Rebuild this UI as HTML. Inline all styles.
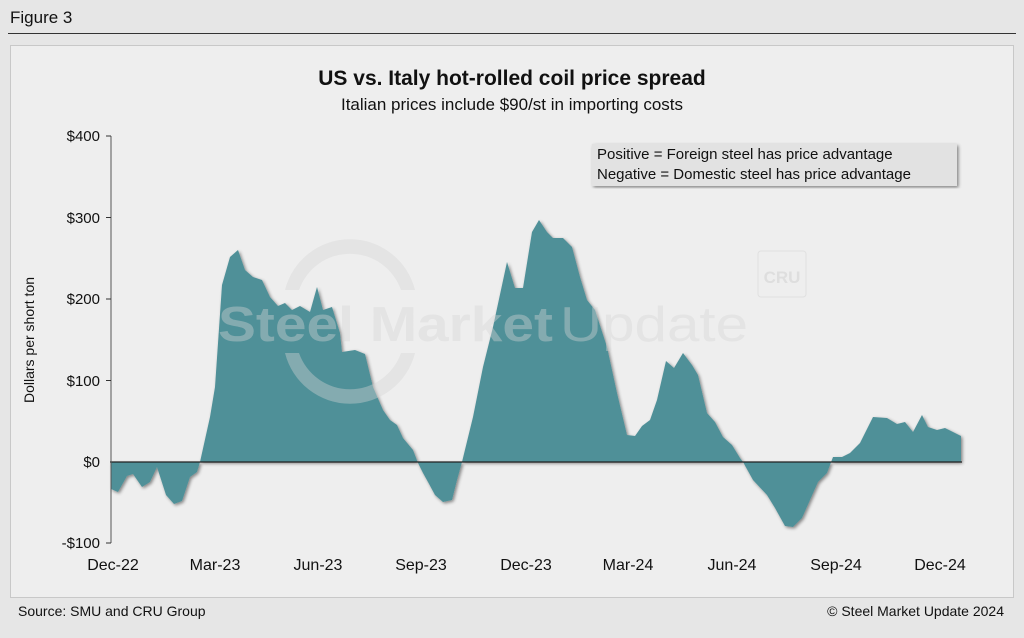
<!DOCTYPE html>
<html><head><meta charset="utf-8"><style>
body{margin:0;background:#e6e6e6;font-family:"Liberation Sans",sans-serif;}
</style></head><body>
<svg width="1024" height="633" xmlns="http://www.w3.org/2000/svg" font-family="Liberation Sans, sans-serif">
<rect width="1024" height="633" fill="#e6e6e6"/>
<text x="10" y="23" font-size="17" fill="#111">Figure 3</text>
<line x1="8" y1="33.5" x2="1016" y2="33.5" stroke="#333" stroke-width="1"/>
<rect x="10.5" y="45.5" width="1003" height="552" fill="#eeeeee" stroke="#c8c8c8"/>
<text x="512" y="85" font-size="21" font-weight="bold" text-anchor="middle" fill="#111">US vs. Italy hot-rolled coil price spread</text>
<text x="512" y="110" font-size="17" text-anchor="middle" fill="#111">Italian prices include $90/st in importing costs</text>
<defs><filter id="sh" x="-5%" y="-5%" width="110%" height="110%"><feDropShadow dx="1.5" dy="1.5" stdDeviation="1.5" flood-color="#000" flood-opacity="0.45"/></filter></defs>
<polygon filter="url(#sh)" fill="#4f9098" points="111,462 111,489 118,492 127,476 133,474 142,487 150,482 157,467 166,495 174,504 182,501 190,477 197,472 200,462 210,417 215,387 222,285 230,257 238,250 245,270 253,277 262,280 270,297 278,306 285,303 292,310 300,306 310,312 317,287 323,310 332,307 340,333 342,352 355,350 365,354 373,387 383,410 390,420 397,425 403,438 413,450 418,463 423,473 428,482 435,495 443,502 452,500 457,480 462,462 473,417 483,367 493,327 507,262 515,288 523,288 532,232 539,220 547,232 553,238 563,238 572,247 580,277 587,300 595,310 607,347 617,393 627,435 635,436 642,426 650,420 657,400 666,361 674,368 683,353 692,365 698,375 707,413 715,422 723,437 732,445 740,458 743,462 753,480 767,495 775,508 785,526 793,527 802,518 810,500 818,482 827,473 833,457 842,457 850,453 860,443 873,417 887,418 897,424 905,422 913,432 922,415 928,427 937,430 945,428 953,432 961,436 961,462"/>
<!-- watermark -->
<g fill="#d4d4d4" fill-opacity="0.4">
<path d="M 285 290 A 67 67 0 0 1 415 290 L 401 290 A 54 54 0 0 0 299 290 Z"/>
<path d="M 285 353 A 67 67 0 0 0 415 353 L 401 353 A 54 54 0 0 1 299 353 Z"/>
<text x="218" y="341" font-size="49" font-weight="bold" textLength="335" lengthAdjust="spacingAndGlyphs">Steel Market</text>
<text x="560" y="341" font-size="49" textLength="188" lengthAdjust="spacingAndGlyphs">Update</text>
</g>
<rect x="758" y="251" width="48" height="46" rx="3" fill="none" stroke="#e0e0e0"/>
<text x="782" y="283" font-size="17" font-weight="bold" text-anchor="middle" fill="#dedede">CRU</text>
<line x1="110" y1="462" x2="962" y2="462" stroke="#222" stroke-width="1.3"/>
<line x1="111" y1="136" x2="111" y2="543" stroke="#555" stroke-width="1"/>
<g stroke="#333"><line x1="106" y1="136" x2="111" y2="136"/><line x1="106" y1="217.5" x2="111" y2="217.5"/><line x1="106" y1="299" x2="111" y2="299"/><line x1="106" y1="380.5" x2="111" y2="380.5"/><line x1="106" y1="543" x2="111" y2="543"/></g>
<g font-size="15" fill="#111" text-anchor="end">
<text x="100" y="141">$400</text><text x="100" y="223">$300</text><text x="100" y="304">$200</text><text x="100" y="386">$100</text><text x="100" y="467">$0</text><text x="100" y="548">-$100</text></g>
<text transform="translate(34,340) rotate(-90)" font-size="14" text-anchor="middle" fill="#111">Dollars per short ton</text>
<g font-size="16" fill="#111" text-anchor="middle">
<text x="113" y="570">Dec-22</text><text x="215" y="570">Mar-23</text><text x="318" y="570">Jun-23</text><text x="421" y="570">Sep-23</text><text x="526" y="570">Dec-23</text><text x="628" y="570">Mar-24</text><text x="732" y="570">Jun-24</text><text x="836" y="570">Sep-24</text><text x="940" y="570">Dec-24</text></g>
<rect x="592" y="144" width="365" height="42" fill="#e2e2e2" filter="url(#sh)"/>
<text x="597" y="159" font-size="15" fill="#111">Positive = Foreign steel has price advantage</text>
<text x="597" y="179" font-size="15" fill="#111">Negative = Domestic steel has price advantage</text>
<text x="18" y="616" font-size="14" fill="#111">Source: SMU and CRU Group</text>
<text x="1004" y="616" font-size="14" fill="#111" text-anchor="end">© Steel Market Update 2024</text>
</svg>
</body></html>
